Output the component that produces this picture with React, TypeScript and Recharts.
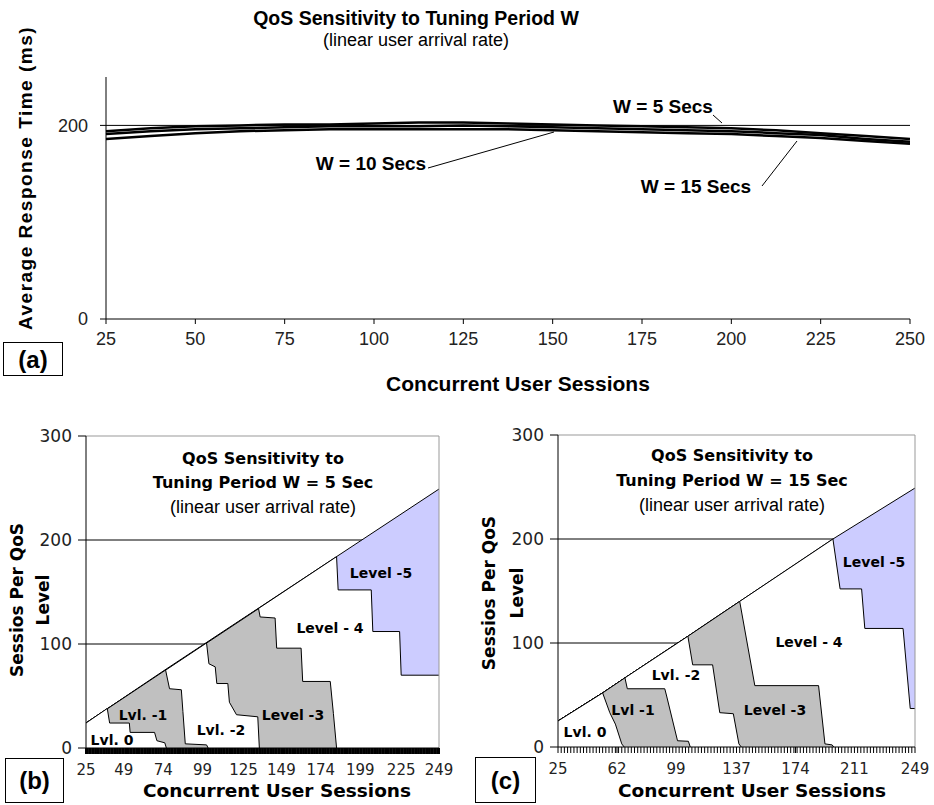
import React from 'react';
import { LineChart, Line, ComposedChart, Area, XAxis, YAxis, CartesianGrid, ReferenceLine } from 'recharts';

const SANS = '"Liberation Sans", Arial, sans-serif';
const WIDE = '"DejaVu Sans", Verdana, sans-serif';

// (a) average response time (ms) vs concurrent sessions
const sessionsA = [25, 37.5, 50, 62.5, 75, 87.5, 100, 112.5, 125, 137.5, 150, 162.5, 175, 187.5, 200, 212.5, 225, 237.5, 250];
const respW5 = [194, 197, 199, 200, 201, 201, 202, 203, 203, 202, 201, 200, 199, 198, 197, 195, 192, 189, 186];
const respW10 = [191, 194, 196, 197, 198, 199, 199, 199, 200, 199, 198, 197, 196, 195, 194, 192, 190, 186, 183];
const respW15 = [186, 189, 192, 194, 195, 196, 196, 196, 196, 196, 195, 194, 193, 192, 191, 189, 187, 184, 181];
const ticksXA = [25, 50, 75, 100, 125, 150, 175, 200, 225, 250];
const ticksYA = [0, 200];

// (b) W = 5 sec: upper edge of each QoS level band [sessions, cumulative sessions]
const totalB = [[25, 24], [75, 75], [101, 101], [134, 134], [184, 184], [249, 249]];
const lvl4B = [[25, 24], [184, 184], [185, 152], [206, 152], [207, 112], [224, 112], [225, 70], [249, 70]];
const lvl3B = [[25, 24], [134.5, 134], [135.5, 126], [145, 125], [146, 96], [161.5, 96], [162.5, 64], [180, 64], [182, 33], [184, 0]];
const lvl2B = [[25, 24], [101.5, 101], [103, 81], [107, 78], [108, 62], [115, 62], [116, 44], [120.5, 32], [134, 30], [135, 0]];
const lvl1B = [[25, 24], [75.5, 75], [78, 57], [85.5, 56], [86.5, 35], [88, 4], [101.5, 3], [102.5, 0]];
const lvl0B = [[25, 24], [38.5, 38], [40, 24], [52.5, 24], [53, 15], [68.5, 15], [70, 7], [75, 5], [76, 0]];
const ticksB = [25, 49, 74, 99, 125, 149, 174, 199, 225, 249];

// (c) W = 15 sec
const totalC = [[25, 25], [53, 52], [67, 66.5], [106.5, 106.5], [139, 140], [197.5, 200], [249, 249]];
const lvl4C = [[25, 25], [53, 52], [67, 66.5], [106.5, 106.5], [139, 140], [197.5, 200], [202, 152], [215.5, 152], [217.5, 114], [241.5, 114], [246, 37], [249, 37]];
const lvl3C = [[25, 25], [53, 52], [67, 66.5], [106.5, 106.5], [139, 140], [148.5, 59], [188.5, 59], [192.5, 3], [197, 2], [198, 0]];
const lvl2C = [[25, 25], [53, 52], [67, 66.5], [106.5, 106.5], [109.5, 79], [122, 79], [126.5, 33], [135, 32], [138.5, 3], [140, 0]];
const lvl1C = [[25, 25], [53, 52], [67, 66.5], [68.5, 56], [92, 56], [93, 50], [100, 6], [106.8, 5.5], [108, 0]];
const lvl0C = [[25, 25], [53, 52], [57.5, 33], [61, 22], [65, 3], [66.5, 0]];
const ticksC = [25, 62, 99, 137, 174, 211, 249];

const ticksYQ = [0, 100, 200, 300];
const minorB = Array.from({ length: 225 }, (_, i) => 25 + i);
const minorC = Array.from({ length: 113 }, (_, i) => 25 + i * 2);

const layers = [
  { key: 'total', fill: '#ccccff' },
  { key: 'l4', fill: '#ffffff' },
  { key: 'l3', fill: '#c0c0c0' },
  { key: 'l2', fill: '#ffffff' },
  { key: 'l1', fill: '#c0c0c0' },
  { key: 'l0', fill: '#ffffff' },
];

function buildTable(series: Record<string, number[][]>) {
  const rows = new Map<number, any>();
  Object.entries(series).forEach(([key, pts]) => {
    pts.forEach(([x, y]) => {
      const row = rows.get(x) ?? { x };
      row[key] = y;
      rows.set(x, row);
    });
  });
  return [...rows.values()].sort((a, b) => a.x - b.x);
}

const dataA = sessionsA.map((s, i) => ({ s, w5: respW5[i], w10: respW10[i], w15: respW15[i] }));
const tableB = buildTable({ total: totalB, l4: lvl4B, l3: lvl3B, l2: lvl2B, l1: lvl1B, l0: lvl0B });
const tableC = buildTable({ total: totalC, l4: lvl4C, l3: lvl3C, l2: lvl2C, l1: lvl1C, l0: lvl0C });

function QosChart({ table, labels, minor, tickWidth, width, margin }: any) {
  const allTicks = Array.from(new Set([...minor, ...labels])).sort((a: any, b: any) => a - b);
  const xTick = (p: any) =>
    labels.includes(p.payload.value) ? (
      <text x={p.x} y={p.y} dy="0.71em" textAnchor="middle" fontSize={15} fontFamily={WIDE} fill="#222">
        {p.payload.value}
      </text>
    ) : (
      <g />
    );
  return (
    <ComposedChart width={width} height={405} data={table} margin={margin}>
      <CartesianGrid vertical={false} horizontalValues={[100, 200]} stroke="#000" />
      <XAxis
        dataKey="x"
        type="number"
        domain={[25, 249]}
        ticks={allTicks}
        interval={0}
        tick={xTick}
        tickLine={{ stroke: '#000', strokeWidth: tickWidth }}
        tickSize={6}
        tickMargin={10}
        height={30}
        axisLine={{ stroke: '#000' }}
      />
      <YAxis
        domain={[0, 300]}
        ticks={ticksYQ}
        width={50}
        tickSize={8}
        tickMargin={6}
        stroke="#000"
        tick={{ fontSize: 17, fill: '#222', fontFamily: WIDE }}
      />
      {layers.map((l) => (
        <Area
          key={l.key}
          type="linear"
          dataKey={l.key}
          fill={l.fill}
          fillOpacity={1}
          stroke="#000"
          strokeWidth={1}
          connectNulls
          dot={false}
          activeDot={false}
          isAnimationActive={false}
        />
      ))}
      <ReferenceLine y={300} stroke="#999" />
      <ReferenceLine x={249} stroke="#999" />
    </ComposedChart>
  );
}

const T = ({ x, y, size, bold, family = SANS, ls, rot, children }: any) => (
  <text
    x={x}
    y={y}
    fontSize={size}
    fontWeight={bold ? 'bold' : 'normal'}
    fontFamily={family}
    textAnchor="middle"
    dominantBaseline="central"
    letterSpacing={ls}
    transform={rot ? `rotate(-90 ${x} ${y})` : undefined}
    fill="#000"
  >
    {children}
  </text>
);

const Box = ({ x, y, w, h, label }: any) => (
  <g>
    <rect x={x} y={y} width={w} height={h} fill="#fff" stroke="#000" strokeWidth={1} />
    <T x={x + w / 2} y={y + h / 2} size={24} bold>
      {label}
    </T>
  </g>
);

export default function App() {
  return (
    <div style={{ position: 'absolute', left: 0, top: 0, width: 934, height: 805, background: '#fff', overflow: 'hidden' }}>
      <div style={{ position: 'absolute', left: 0, top: 0 }}>
        <LineChart width={934} height={360} data={dataA} margin={{ top: 77, right: 24, left: 46, bottom: 11 }}>
          <CartesianGrid vertical={false} horizontalValues={[200]} stroke="#000" />
          <XAxis
            dataKey="s"
            type="number"
            domain={[25, 250]}
            ticks={ticksXA}
            interval={0}
            tickSize={5}
            tickMargin={8}
            height={30}
            stroke="#000"
            tick={{ fontSize: 18, fill: '#222', fontFamily: SANS }}
          />
          <YAxis
            domain={[0, 250]}
            ticks={ticksYA}
            width={60}
            tickSize={6}
            tickMargin={12}
            stroke="#000"
            tick={{ fontSize: 18, fill: '#222', fontFamily: SANS }}
          />
          <Line type="linear" dataKey="w5" stroke="#000" strokeWidth={2.5} dot={false} isAnimationActive={false} />
          <Line type="linear" dataKey="w10" stroke="#000" strokeWidth={2.5} dot={false} isAnimationActive={false} />
          <Line type="linear" dataKey="w15" stroke="#000" strokeWidth={2.5} dot={false} isAnimationActive={false} />
        </LineChart>
      </div>
      <div style={{ position: 'absolute', left: 0, top: 400 }}>
        <QosChart table={tableB} labels={ticksB} minor={minorB} tickWidth={2} width={470} margin={{ top: 36, right: 31, left: 36, bottom: 27 }} />
      </div>
      <div style={{ position: 'absolute', left: 470, top: 400 }}>
        <QosChart table={tableC} labels={ticksC} minor={minorC} tickWidth={1} width={464} margin={{ top: 35, right: 19, left: 38, bottom: 28 }} />
      </div>
      <svg width={934} height={805} style={{ position: 'absolute', left: 0, top: 0, pointerEvents: 'none' }}>
        {/* (a) */}
        <T x={416} y={18} size={19.5} bold>QoS Sensitivity to Tuning Period W</T>
        <T x={416} y={40} size={18}>(linear user arrival rate)</T>
        <T x={25} y={178} size={19} bold ls={1.5} rot>Average Response Time  (ms)</T>
        <T x={518} y={383} size={21} bold>Concurrent User Sessions</T>
        <T x={663} y={106} size={19} bold>W = 5 Secs</T>
        <T x={371} y={163} size={19} bold>W = 10 Secs</T>
        <T x={696} y={186} size={19} bold>W = 15 Secs</T>
        <line x1={713} y1={115} x2={722} y2={123} stroke="#000" />
        <line x1={428} y1={168} x2={554} y2={132} stroke="#000" />
        <line x1={762} y1={186} x2={797} y2={141} stroke="#000" />
        <Box x={3.5} y={342.5} w={59} h={33} label="(a)" />

        {/* (b) */}
        <T x={263} y={458} size={16} bold family={WIDE}>QoS Sensitivity to</T>
        <T x={263} y={482} size={16} bold family={WIDE}>Tuning Period W = 5 Sec</T>
        <T x={263} y={507} size={18}>(linear user arrival rate)</T>
        <T x={17} y={600} size={17} bold family={WIDE} rot>Sessios Per QoS</T>
        <T x={43} y={600} size={17} bold family={WIDE} rot>Level</T>
        <T x={277} y={790} size={18.5} bold family={WIDE}>Concurrent User Sessions</T>
        <T x={112} y={740} size={14} bold family={WIDE}>Lvl. 0</T>
        <T x={143} y={715} size={14} bold family={WIDE}>Lvl. -1</T>
        <T x={221} y={730} size={14} bold family={WIDE}>Lvl. -2</T>
        <T x={293} y={715} size={14} bold family={WIDE}>Level -3</T>
        <T x={330} y={628} size={14} bold family={WIDE}>Level - 4</T>
        <T x={381} y={573} size={14} bold family={WIDE}>Level -5</T>
        <Box x={5.5} y={758.5} w={58} h={44} label="(b)" />

        {/* (c) */}
        <T x={732} y={455} size={16} bold family={WIDE}>QoS Sensitivity to</T>
        <T x={732} y={480} size={16} bold family={WIDE}>Tuning Period W = 15 Sec</T>
        <T x={732} y={505} size={18}>(linear user arrival rate)</T>
        <T x={489} y={593} size={17} bold family={WIDE} rot>Sessios Per QoS</T>
        <T x={517} y={593} size={17} bold family={WIDE} rot>Level</T>
        <T x={752} y={790} size={18.5} bold family={WIDE}>Concurrent User Sessions</T>
        <T x={585} y={732} size={14} bold family={WIDE}>Lvl. 0</T>
        <T x={633} y={710} size={14} bold family={WIDE}>Lvl -1</T>
        <T x={676} y={675} size={14} bold family={WIDE}>Lvl. -2</T>
        <T x={775} y={710} size={14} bold family={WIDE}>Level -3</T>
        <T x={809} y={642} size={14} bold family={WIDE}>Level - 4</T>
        <T x={874} y={562} size={14} bold family={WIDE}>Level -5</T>
        <Box x={475.5} y={757.5} w={60} h={45} label="(c)" />
      </svg>
    </div>
  );
}
